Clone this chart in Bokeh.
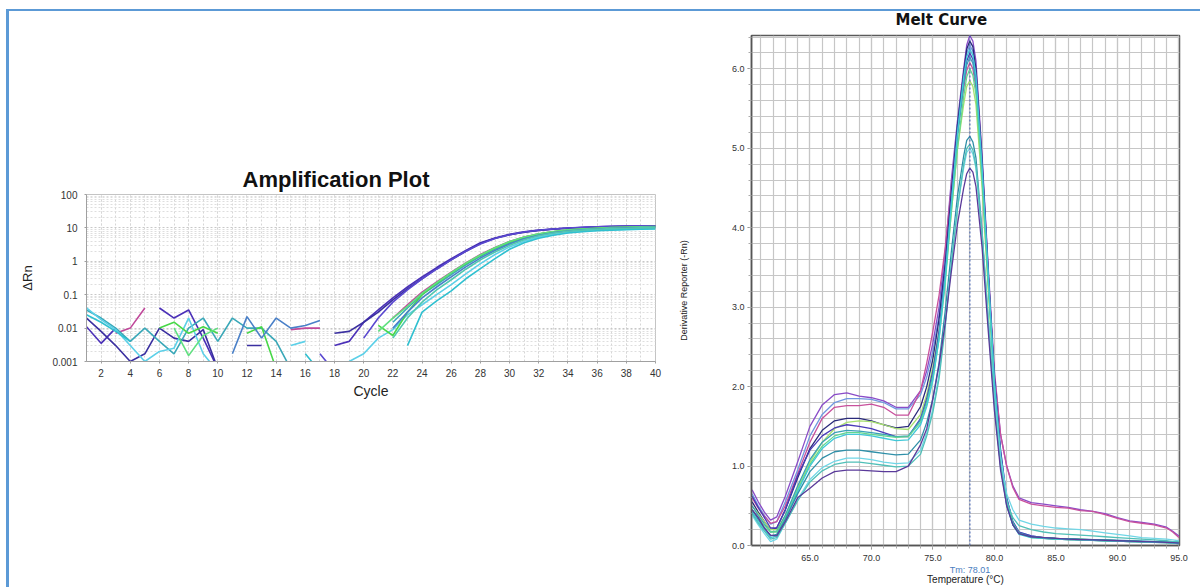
from bokeh.plotting import figure
from bokeh.layouts import row, column, Spacer
from bokeh.models import (FixedTicker, SingleIntervalTicker, CustomJSTickFormatter,
                          LinearAxis, Span, PrintfTickFormatter)
from bokeh.embed import file_html
from bokeh.resources import INLINE

nan = float("nan")

# ---------------- Amplification plot data ----------------
cycles = list(range(1, 41))
amp_colors = ["#4b30b8", "#3a2fa0", "#5a48d0", "#c0489a", "#3aa8b8", "#5cd0e8",
              "#48d848", "#60e080", "#4a80c8", "#30c0d0", "#50c8b0"]
amp_a1 = [0.011, 0.0035, 0.01, nan, nan, 0.04, 0.02, 0.035, 0.005, 0.0006,
          nan, nan, nan, nan, nan, nan, nan, 0.003, 0.004, 0.015,
          0.035, 0.08, 0.17, 0.34, 0.65, 1.2, 2.1, 3.6, 5.0, 6.4,
          7.6, 8.6, 9.3, 9.9, 10.3, 10.7, 11.0, 11.3, 11.4, 11.5]
amp_a2 = [0.02, 0.008, 0.003, 0.001, 0.0017, 0.01, 0.005, 0.004, 0.009, 0.0006,
          nan, 0.003, 0.003, nan, nan, nan, nan, 0.007, 0.008, 0.015,
          0.03, 0.07, 0.15, 0.3, 0.6, 1.1, 2.0, 3.4, 4.9, 6.2,
          7.4, 8.4, 9.2, 9.8, 10.3, 10.7, 11.0, 11.2, 11.4, 11.5]
amp_a3 = [nan, nan, nan, nan, nan, nan, nan, nan, nan, nan,
          nan, nan, nan, nan, nan, nan, 0.0017, 0.0005, nan, 0.005,
          0.02, 0.06, 0.14, 0.3, 0.58, 1.1, 2.0, 3.3, 4.8, 6.2,
          7.5, 8.5, 9.3, 9.9, 10.4, 10.8, 11.1, 11.3, 11.5, 11.6]
amp_a4 = [nan, nan, 0.007, 0.01, 0.04, nan, nan, nan, nan, nan,
          nan, nan, nan, nan, 0.009, 0.01, 0.01, nan, nan, nan,
          nan, 0.02, 0.05, 0.12, 0.24, 0.47, 0.9, 1.6, 2.6, 3.9,
          5.3, 6.6, 7.6, 8.5, 9.1, 9.6, 10.0, 10.3, 10.5, 10.7]
amp_a5 = [0.035, 0.02, 0.01, 0.004, 0.01, 0.004, 0.0017, 0.01, 0.02, 0.004,
          0.02, 0.01, 0.01, 0.004, 0.0006, nan, nan, nan, nan, nan,
          nan, 0.015, 0.04, 0.1, 0.2, 0.4, 0.78, 1.4, 2.3, 3.5,
          4.9, 6.2, 7.3, 8.2, 8.9, 9.4, 9.8, 10.1, 10.3, 10.5]
amp_a6 = [0.04, 0.018, 0.009, 0.003, 0.001, 0.002, 0.0025, 0.02, 0.0017, 0.0005,
          nan, nan, nan, nan, 0.003, 0.004, nan, nan, 0.001, 0.0017,
          0.005, 0.009, 0.025, 0.05, 0.1, 0.2, 0.42, 0.85, 1.6, 2.7,
          4.0, 5.3, 6.4, 7.3, 8.0, 8.5, 8.9, 9.2, 9.4, 9.6]
amp_a7 = [nan, nan, nan, nan, nan, 0.01, 0.015, 0.007, 0.011, 0.007,
          nan, 0.007, 0.011, 0.0006, nan, nan, nan, nan, nan, nan,
          0.012, 0.006, 0.03, 0.1, 0.22, 0.45, 0.85, 1.5, 2.5, 3.8,
          5.2, 6.6, 7.7, 8.6, 9.3, 9.8, 10.2, 10.5, 10.7, 10.9]
amp_a8 = [nan, nan, nan, nan, nan, nan, 0.01, 0.0015, 0.006, 0.01,
          nan, nan, nan, nan, nan, nan, nan, nan, nan, nan,
          0.008, 0.02, 0.045, 0.11, 0.23, 0.46, 0.88, 1.55, 2.55, 3.9,
          5.3, 6.7, 7.8, 8.7, 9.3, 9.8, 10.2, 10.5, 10.7, 10.8]
amp_a9 = [nan, nan, nan, nan, nan, nan, nan, nan, nan, nan,
          0.0017, 0.022, 0.005, 0.02, 0.01, 0.012, 0.017, nan, nan, nan,
          nan, 0.01, 0.03, 0.08, 0.17, 0.34, 0.68, 1.25, 2.1, 3.3,
          4.7, 6.0, 7.2, 8.1, 8.8, 9.3, 9.7, 10.0, 10.2, 10.4]
amp_a10 = [0.025, 0.015, 0.008, 0.004, nan, nan, nan, nan, nan, nan,
           nan, nan, nan, nan, nan, 0.0017, 0.0005, nan, nan, nan,
           nan, nan, 0.003, 0.03, 0.065, 0.13, 0.3, 0.6, 1.2, 2.3,
           3.6, 4.9, 6.0, 7.0, 7.7, 8.2, 8.6, 8.9, 9.1, 9.3]
amp_a11 = [nan, nan, nan, nan, nan, nan, nan, nan, nan, nan,
           nan, nan, nan, nan, nan, nan, nan, nan, nan, nan,
           nan, 0.005, 0.02, 0.06, 0.14, 0.28, 0.58, 1.1, 1.9, 3.0,
           4.4, 5.8, 7.0, 7.9, 8.6, 9.1, 9.5, 9.8, 10.0, 10.2]
amp_series = [amp_a1, amp_a2, amp_a3, amp_a4, amp_a5, amp_a6, amp_a7, amp_a8,
              amp_a9, amp_a10, amp_a11]
amp_yticks = [0.001, 0.01, 0.1, 1, 10, 100]

# ---------------- Melt curve data ----------------
temps = [60.3, 60.8, 61.3, 61.8, 62.3, 63, 64, 65, 66, 67,
         68, 69, 70, 71, 72, 73, 74, 74.5, 75, 75.5,
         76, 76.5, 77, 77.5, 77.75, 78, 78.25, 78.5, 79, 79.5,
         80, 80.5, 81, 81.5, 82, 83, 84, 85, 86, 87,
         88, 89, 90, 91, 92, 93, 94, 94.5, 95]
melt_colors = ["#8a4cc8", "#7098e0", "#c8509c", "#2a2a7a", "#a8e070", "#4a3ab8",
               "#3aa0b8", "#60d890", "#40c8d8", "#2f8fa8", "#70d6e6", "#50c0b8", "#5a3a9a"]
melt_m1 = [0.70, 0.55, 0.42, 0.32, 0.36, 0.62, 1.05, 1.5, 1.77, 1.9, 1.92, 1.88, 1.86, 1.82, 1.74, 1.74, 1.95, 2.2, 2.55, 3.0,
           3.7, 4.6, 5.35, 6.0, 6.3, 6.42, 6.35, 6.1, 4.9, 3.5, 2.2, 1.4, 1.0, 0.75, 0.6,
           0.54, 0.52, 0.5, 0.48, 0.45, 0.43, 0.4, 0.35, 0.31, 0.29, 0.27, 0.23, 0.18, 0.12]
melt_m2 = [0.65, 0.5, 0.38, 0.27, 0.3, 0.55, 0.95, 1.38, 1.65, 1.8, 1.85, 1.85, 1.84, 1.8, 1.72, 1.72, 1.9, 2.12, 2.45, 2.9,
           3.6, 4.5, 5.3, 5.9, 6.2, 6.3, 6.22, 5.95, 4.8, 3.4, 2.1, 1.2, 0.6, 0.3, 0.17,
           0.12, 0.1, 0.09, 0.085, 0.08, 0.075, 0.07, 0.065, 0.06, 0.055, 0.05, 0.045, 0.04, 0.035]
melt_m3 = [0.6, 0.47, 0.37, 0.28, 0.3, 0.5, 0.9, 1.3, 1.6, 1.74, 1.76, 1.76, 1.78, 1.74, 1.64, 1.64, 1.95, 2.3, 2.7, 3.15,
           3.75, 4.5, 5.2, 5.75, 5.98, 6.08, 6.0, 5.75, 4.7, 3.4, 2.15, 1.4, 1.0, 0.73, 0.58,
           0.52, 0.5, 0.48, 0.47, 0.44, 0.43, 0.39, 0.34, 0.3, 0.28, 0.26, 0.22, 0.17, 0.1]
melt_m4 = [0.55, 0.42, 0.3, 0.2, 0.22, 0.45, 0.85, 1.22, 1.45, 1.57, 1.6, 1.6, 1.57, 1.52, 1.48, 1.5, 1.75, 2.0, 2.35, 2.85,
           3.55, 4.45, 5.3, 5.95, 6.25, 6.35, 6.28, 6.0, 4.85, 3.45, 2.1, 1.15, 0.55, 0.28, 0.16,
           0.11, 0.09, 0.08, 0.075, 0.07, 0.065, 0.06, 0.055, 0.05, 0.045, 0.04, 0.035, 0.03, 0.025]
melt_m5 = [0.5, 0.4, 0.3, 0.2, 0.2, 0.38, 0.72, 1.05, 1.3, 1.47, 1.55, 1.57, 1.56, 1.52, 1.47, 1.46, 1.65, 1.9, 2.25, 2.7,
           3.35, 4.2, 5.0, 5.55, 5.78, 5.85, 5.78, 5.55, 4.5, 3.2, 2.0, 1.1, 0.55, 0.28, 0.16,
           0.11, 0.1, 0.09, 0.08, 0.08, 0.07, 0.07, 0.06, 0.06, 0.05, 0.05, 0.04, 0.04, 0.03]
melt_m6 = [0.62, 0.48, 0.35, 0.22, 0.22, 0.45, 0.88, 1.2, 1.38, 1.48, 1.52, 1.5, 1.47, 1.42, 1.37, 1.37, 1.6, 1.85, 2.2, 2.7,
           3.45, 4.35, 5.2, 5.85, 6.1, 6.2, 6.12, 5.88, 4.75, 3.4, 2.1, 1.2, 0.6, 0.3, 0.17,
           0.12, 0.1, 0.09, 0.08, 0.075, 0.07, 0.065, 0.06, 0.055, 0.05, 0.045, 0.04, 0.035, 0.03]
melt_m7 = [0.5, 0.38, 0.27, 0.17, 0.18, 0.38, 0.75, 1.08, 1.3, 1.42, 1.45, 1.44, 1.42, 1.4, 1.37, 1.38, 1.58, 1.82, 2.15, 2.65,
           3.4, 4.3, 5.15, 5.8, 6.05, 6.15, 6.07, 5.82, 4.7, 3.35, 2.05, 1.15, 0.58, 0.29, 0.16,
           0.11, 0.095, 0.085, 0.08, 0.075, 0.07, 0.065, 0.06, 0.055, 0.05, 0.045, 0.04, 0.035, 0.03]
melt_m8 = [0.45, 0.35, 0.25, 0.17, 0.17, 0.35, 0.7, 1.02, 1.25, 1.38, 1.42, 1.42, 1.4, 1.38, 1.36, 1.37, 1.55, 1.78, 2.1, 2.6,
           3.3, 4.2, 5.0, 5.65, 5.9, 6.0, 5.92, 5.68, 4.6, 3.3, 2.0, 1.1, 0.55, 0.28, 0.15,
           0.1, 0.09, 0.08, 0.075, 0.07, 0.065, 0.06, 0.055, 0.05, 0.045, 0.04, 0.035, 0.03, 0.025]
melt_m9 = [0.42, 0.3, 0.2, 0.1, 0.12, 0.33, 0.68, 1.0, 1.22, 1.35, 1.4, 1.4, 1.38, 1.35, 1.32, 1.33, 1.52, 1.75, 2.08, 2.6,
           3.35, 4.3, 5.2, 5.9, 6.15, 6.25, 6.17, 5.92, 4.75, 3.4, 2.05, 1.1, 0.52, 0.26, 0.14,
           0.1, 0.09, 0.08, 0.075, 0.07, 0.065, 0.06, 0.055, 0.05, 0.045, 0.04, 0.035, 0.03, 0.025]
melt_m10 = [0.45, 0.33, 0.22, 0.12, 0.14, 0.33, 0.65, 0.93, 1.1, 1.18, 1.2, 1.2, 1.18, 1.16, 1.14, 1.15, 1.33, 1.55, 1.85, 2.3,
            2.95, 3.7, 4.4, 4.9, 5.1, 5.15, 5.08, 4.88, 3.95, 2.85, 1.8, 1.0, 0.5, 0.26, 0.15,
            0.11, 0.1, 0.09, 0.085, 0.08, 0.075, 0.07, 0.065, 0.06, 0.055, 0.05, 0.045, 0.04, 0.035]
melt_m11 = [0.38, 0.26, 0.15, 0.05, 0.08, 0.28, 0.58, 0.83, 0.98, 1.06, 1.1, 1.1, 1.08, 1.05, 1.03, 1.04, 1.2, 1.42, 1.72, 2.15,
            2.8, 3.55, 4.25, 4.75, 4.95, 5.0, 4.93, 4.75, 3.9, 2.85, 1.85, 1.1, 0.65, 0.45, 0.32,
            0.27, 0.24, 0.22, 0.21, 0.2, 0.18, 0.16, 0.14, 0.12, 0.1, 0.09, 0.08, 0.07, 0.06]
melt_m12 = [0.4, 0.28, 0.18, 0.08, 0.1, 0.28, 0.56, 0.8, 0.94, 1.02, 1.05, 1.05, 1.03, 1.01, 0.99, 1.0, 1.15, 1.38, 1.68, 2.1,
            2.75, 3.55, 4.25, 4.8, 5.0, 5.05, 4.98, 4.78, 3.9, 2.8, 1.78, 1.0, 0.55, 0.35, 0.25,
            0.2, 0.17, 0.15, 0.14, 0.13, 0.12, 0.11, 0.1, 0.09, 0.08, 0.07, 0.06, 0.05, 0.05]
melt_m13 = [0.45, 0.35, 0.22, 0.13, 0.12, 0.3, 0.6, 0.72, 0.85, 0.93, 0.95, 0.95, 0.94, 0.93, 0.93, 1.0, 1.27, 1.47, 1.85, 2.27,
            2.8, 3.45, 4.05, 4.5, 4.68, 4.75, 4.7, 4.52, 3.75, 2.7, 1.7, 0.95, 0.5, 0.26, 0.15,
            0.11, 0.1, 0.09, 0.08, 0.075, 0.07, 0.065, 0.06, 0.055, 0.05, 0.045, 0.04, 0.035, 0.03]
melt_series = [melt_m1, melt_m2, melt_m3, melt_m4, melt_m5, melt_m6, melt_m7,
               melt_m8, melt_m9, melt_m10, melt_m11, melt_m12, melt_m13]
tm_value = 78.01

FONT = "Liberation Sans"

# ---------------- Amplification figure ----------------
amp = figure(width=656, height=261, y_axis_type="log", x_range=(1, 40), y_range=(0.001, 100),
             output_backend="svg", toolbar_location=None,
             min_border_left=77, min_border_right=10, min_border_top=44, min_border_bottom=50)
amp.title.text = "Amplification Plot"
amp.title.align = "left"
amp.title.offset = 156
amp.title.standoff = 6
amp.title.text_font = FONT
amp.title.text_font_size = "22px"
amp.title.text_font_style = "bold"
amp.title.text_color = "#111111"
amp.outline_line_color = "#c4c4c4"
amp.background_fill_color = "#ffffff"

for ys, col in zip(amp_series, amp_colors):
    amp.line(cycles, ys, line_color=col, line_width=1.6)

amp.xaxis.ticker = SingleIntervalTicker(interval=2, num_minor_ticks=2)
minor_logs = [m * 10.0 ** e for e in range(-3, 2) for m in range(2, 10)]
amp.yaxis.ticker = FixedTicker(ticks=amp_yticks, minor_ticks=minor_logs)
amp.yaxis.formatter = CustomJSTickFormatter(code="return String(Number(tick.toPrecision(2)));")
for ax in (amp.xaxis[0], amp.yaxis[0]):
    ax.axis_line_color = "#a0a0a0"
    ax.major_tick_line_color = "#a0a0a0"
    ax.major_tick_out = 2
    ax.major_tick_in = 0
    ax.minor_tick_line_color = None
    ax.major_label_text_font = FONT
    ax.major_label_text_font_size = "10px"
    ax.major_label_text_color = "#333333"
    ax.axis_label_text_font = FONT
    ax.axis_label_text_font_style = "normal"
    ax.axis_label_text_color = "#222222"
amp.xaxis.axis_label = "Cycle"
amp.xaxis.axis_label_text_font_size = "14px"
amp.xaxis.major_label_standoff = 3
amp.xaxis.axis_label_standoff = 3
amp.yaxis.axis_label = "ΔRn"
amp.yaxis.axis_label_text_font_size = "13px"
amp.yaxis.major_label_standoff = 5
amp.yaxis.axis_label_standoff = 14
amp.xgrid.grid_line_color = "#d6d6d6"
amp.xgrid.grid_line_dash = "2 2"
amp.xgrid.minor_grid_line_color = "#d6d6d6"
amp.xgrid.minor_grid_line_dash = "2 2"
amp.ygrid.grid_line_color = "#c8c8c8"
amp.ygrid.grid_line_dash = "2 2"
amp.ygrid.minor_grid_line_color = "#dedede"
amp.ygrid.minor_grid_line_dash = "2 2"

# ---------------- Melt figure ----------------
melt = figure(width=535, height=587, x_range=(60.25, 95.05), y_range=(0, 6.42),
              output_backend="svg", toolbar_location=None,
              min_border_left=86, min_border_right=21, min_border_top=35, min_border_bottom=39)
melt.border_fill_alpha = 0
melt.title.text = "Melt Curve"
melt.title.align = "left"
melt.title.offset = 144
melt.title.standoff = 14
melt.title.text_font = "DejaVu Sans"
melt.title.text_font_size = "15px"
melt.title.text_font_style = "bold"
melt.title.text_color = "#111111"
melt.outline_line_color = "#5a5a5a"
melt.outline_line_width = 1.5

melt.xaxis.ticker = SingleIntervalTicker(interval=5, num_minor_ticks=5)
melt.yaxis.ticker = SingleIntervalTicker(interval=1, num_minor_ticks=5)
melt.xaxis.formatter = PrintfTickFormatter(format="%.1f")
melt.yaxis.formatter = PrintfTickFormatter(format="%.1f")
for g in (melt.xgrid[0], melt.ygrid[0]):
    g.grid_line_color = "#c6c6c6"
    g.grid_line_width = 1.2
    g.minor_grid_line_color = "#c6c6c6"
    g.minor_grid_line_width = 1.2
for ax in (melt.xaxis[0], melt.yaxis[0]):
    ax.axis_line_color = "#555555"
    ax.axis_line_width = 1.5
    ax.major_tick_line_color = "#888888"
    ax.major_tick_out = 4
    ax.major_tick_in = 0
    ax.minor_tick_line_color = "#aaaaaa"
    ax.minor_tick_out = 3
    ax.minor_tick_in = 0
    ax.major_label_text_font = FONT
    ax.major_label_text_font_size = "9px"
    ax.major_label_text_color = "#333333"
    ax.axis_label_text_font = FONT
    ax.axis_label_text_font_style = "normal"
    ax.axis_label_text_color = "#222222"
melt.xaxis.major_label_standoff = 5
melt.yaxis.major_label_standoff = 3
melt.yaxis.axis_label = "Derivative Reporter (-Rn)"
melt.yaxis.axis_label_text_font_size = "9px"
melt.yaxis.axis_label_standoff = 40

tm_axis = LinearAxis(ticker=FixedTicker(ticks=[tm_value]),
                     formatter=CustomJSTickFormatter(code="return 'Tm: ' + tick.toFixed(2);"),
                     axis_line_color=None, major_tick_line_color=None, minor_tick_line_color=None,
                     major_tick_out=0, major_tick_in=0, minor_tick_out=0, minor_tick_in=0,
                     major_label_standoff=1, major_label_text_font=FONT,
                     major_label_text_font_size="9px", major_label_text_color="#4a7ec0",
                     axis_label="Temperature (°C)", axis_label_standoff=-4,
                     axis_label_text_font=FONT, axis_label_text_font_size="10px",
                     axis_label_text_font_style="normal", axis_label_text_color="#222222")
melt.add_layout(tm_axis, "below")

for ys, col in zip(melt_series, melt_colors):
    melt.line(temps, ys, line_color=col, line_width=1.3)

melt.add_layout(Span(location=tm_value, dimension="height", line_color="#3a5ab0",
                     line_dash="2 2", line_width=1))

page = row(Spacer(width=9, height=587),
           column(Spacer(width=656, height=150), amp),
           melt,
           styles={"box-shadow": "inset 6px 9px 0 0 #ffffff, inset 9px 11px 0 0 #5c9ad6"})

open("out.html", "w").write(file_html(page, INLINE, title="qPCR"))
